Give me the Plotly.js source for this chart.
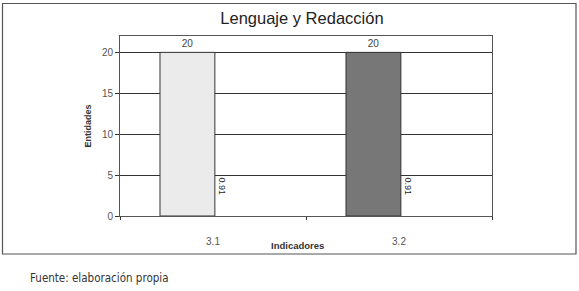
<!DOCTYPE html>
<html>
<head>
<meta charset="utf-8">
<script src="https://cdn.plot.ly/plotly-3.0.1.min.js"></script>
<style>html,body{margin:0;padding:0;background:#fff;}#chart{width:579px;height:291px;}</style>
</head>
<body>
<div id="chart"></div>
<script>
// ---- data ----
var categories = ['3.1', '3.2'];
var entidades = [20, 20];
var secundario = [0.91, 0.91];
var chartTitle = 'Lenguaje y Redacción';
var xTitle = 'Indicadores';
var yTitle = 'Entidades';
var fuente = 'Fuente: elaboración propia';

// ---- styles ----
var barColors = ['#ebebeb', '#777777'];
var W = 579, H = 291;
var M = {l: 120, r: 87, t: 36, b: 75};
var pw = W - M.l - M.r, ph = H - M.t - M.b;
function px(x) { return (x - M.l) / pw; }
function py(y) { return (H - M.b - y) / ph; }

var traces = [
  {
    type: 'bar', x: categories, y: entidades,
    width: 0.295, offset: -0.285,
    marker: {color: barColors, line: {color: '#333333', width: 1}},
    text: entidades.map(String), textposition: 'outside',
    textfont: {family: 'Liberation Sans, Arial', size: 10, color: '#444'},
    constraintext: 'none', cliponaxis: false, hoverinfo: 'none'
  },
  {
    type: 'bar', x: categories, y: secundario,
    width: 0.06, offset: 0.02,
    marker: {color: 'rgba(0,0,0,0)', line: {width: 0}},
    hoverinfo: 'none'
  }
];

var annotations = secundario.map(function (v, i) {
  return {text: String(v), x: i, y: v, xref: 'x', yref: 'y',
          xshift: 9, yshift: 22, textangle: 90, showarrow: false,
          xanchor: 'center', yanchor: 'middle',
          font: {family: 'Liberation Sans, Arial', size: 9, color: '#222'}};
});
annotations.push(
  {text: '<b>' + xTitle + '</b>', xref: 'paper', yref: 'paper', x: px(297), y: py(245),
   xanchor: 'center', yanchor: 'middle', showarrow: false,
   font: {size: 9.5, color: '#333'}},
  {text: fuente, xref: 'paper', yref: 'paper', x: px(28), y: py(278),
   xanchor: 'left', yanchor: 'middle', showarrow: false,
   font: {family: 'DejaVu Sans Condensed, Liberation Sans Narrow, Arial Narrow, sans-serif', size: 11.5, color: '#333'}}
);

var layout = {
  width: W, height: H,
  margin: M,
  paper_bgcolor: '#fff', plot_bgcolor: '#fff',
  showlegend: false,
  barmode: 'overlay',
  font: {family: 'Liberation Sans, Arial', color: '#444'},
  title: {text: chartTitle, x: px(314), xanchor: 'center', y: 1 - 18 / H, yanchor: 'middle',
          font: {family: 'Liberation Sans, Arial', size: 16.5, color: '#222'}},
  xaxis: {
    type: 'category', range: [-0.5, 1.5],
    tickson: 'boundaries', ticks: 'outside', ticklen: 3, tickcolor: '#333',
    showline: true, linecolor: '#555', linewidth: 1, mirror: true,
    showgrid: false, zeroline: false,
    ticklabelstandoff: 16,
    tickfont: {size: 10, color: '#555'}
  },
  yaxis: {
    range: [0, 22], tickvals: [0, 5, 10, 15, 20],
    ticks: 'outside', ticklen: 4, tickcolor: '#333',
    showline: true, linecolor: '#555', linewidth: 1, mirror: true,
    showgrid: true, gridcolor: '#333', gridwidth: 1, zeroline: false,
    tickfont: {size: 10, color: '#555'},
    title: {text: yTitle, standoff: 8, font: {size: 9, color: '#333', weight: 'bold'}}
  },
  annotations: annotations,
  shapes: [
    {type: 'rect', xref: 'paper', yref: 'paper', x0: px(2.5), x1: px(576), y0: py(3.5), y1: py(254),
     line: {color: '#555', width: 1.2}, fillcolor: 'rgba(0,0,0,0)', layer: 'below'}
  ]
};

Plotly.newPlot('chart', traces, layout, {displayModeBar: false, staticPlot: true});
</script>
</body>
</html>
